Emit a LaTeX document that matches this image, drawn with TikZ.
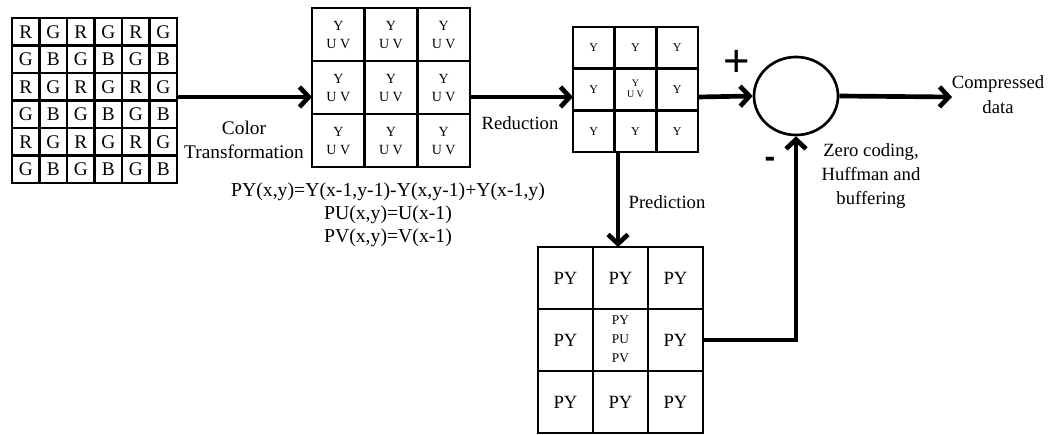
\documentclass[tikz,border=0pt]{standalone}
\usepackage{fontspec}
\setmainfont{Liberation Serif}
\newfontfamily\signfont{Liberation Sans}
\usetikzlibrary{arrows.meta,shapes.geometric}
\begin{document}
\begin{tikzpicture}[x=0.75pt,y=-0.75pt,
  frame/.style={draw, line width=2pt, inner sep=0pt, outer sep=0pt, anchor=north west},
  gridline/.style={line width=2pt},
  flow/.style={line width=3.5pt, -{Straight Barb[length=7pt,width=15pt]}},
  lbl/.style={font=\fontsize{14}{18}\selectfont, align=center, inner sep=0pt},
  bayer/.style={font=\fontsize{14.5}{16}\selectfont, inner sep=0pt},
  yuvtxt/.style={font=\fontsize{10.5}{13.5}\selectfont, align=center, inner sep=0pt},
  ytxt/.style={font=\fontsize{9}{11}\selectfont, align=center, inner sep=0pt},
  pytxt/.style={font=\fontsize{14}{16}\selectfont, align=center, inner sep=0pt},
]
\useasboundingbox (0,0) rectangle (1059,435);

% ---- Bayer mosaic (6 x 6) ----
\node[frame, minimum width=123.75pt, minimum height=123.75pt] (rgb) at (12,18) {};
\foreach \i in {1,...,5} {
  \draw[gridline] ({12+27.5*\i},18) -- ({12+27.5*\i},183);
  \draw[gridline] (12,{18+27.5*\i}) -- (177,{18+27.5*\i});
}
\foreach \row/\a/\b in {0/R/G,1/G/B,2/R/G,3/G/B,4/R/G,5/G/B} {
  \foreach \c in {0,2,4} {
    \pgfmathtruncatemacro\d{\c+1}
    \node[bayer] (p\row\c) at ({12+27.5*\c+13.75},{18+27.5*\row+14}) {\a};
    \node[bayer] (p\row\d) at ({12+27.5*\d+13.75},{18+27.5*\row+14}) {\b};
  }
}

% ---- YUV block (3 x 3) ----
\node[frame, minimum width=118.5pt, minimum height=119.25pt] (yuv) at (312,8) {};
\foreach \i in {1,2} {
  \draw[gridline] ({312+52.67*\i},8) -- ({312+52.67*\i},167);
  \draw[gridline] (312,{8+53*\i}) -- (470,{8+53*\i});
}
\foreach \r in {0,1,2} \foreach \c in {0,1,2} {
  \node[yuvtxt] (q\r\c) at ({338.3+52.67*\c},{35+53*\r}) {Y\\U V};
}

% ---- reduced block (3 x 3) ----
\node[frame, minimum width=93.75pt, minimum height=93.75pt] (red) at (573,27) {};
\foreach \i in {1,2} {
  \draw[gridline] ({573+41.67*\i},27) -- ({573+41.67*\i},152);
  \draw[gridline] (573,{27+41.67*\i}) -- (698,{27+41.67*\i});
}
\foreach \r/\c in {0/0,0/1,0/2,1/0,1/2,2/0,2/1,2/2} {
  \node[ytxt] (s\r\c) at ({593.8+41.67*\c},{48+41.67*\r}) {Y};
}
\node[font=\fontsize{7.5}{8.5}\selectfont, align=center, inner sep=0pt] (s11) at (635.5,88.5) {Y\\U V};

% ---- prediction block (3 x 3) ----
\node[frame, minimum width=123.75pt, minimum height=139.5pt] (pred) at (538,247) {};
\foreach \i in {1,2} {
  \draw[gridline] ({538+55*\i},247) -- ({538+55*\i},433);
  \draw[gridline] (538,{247+62*\i}) -- (703,{247+62*\i});
}
\foreach \r/\c in {0/0,0/1,0/2,1/0,1/2,2/0,2/1,2/2} {
  \node[pytxt] (t\r\c) at ({565.5+55*\c},{278+62*\r}) {PY};
}
\node[font=\fontsize{10}{14.25}\selectfont, align=center, inner sep=0pt] (t11) at (620.5,339) {PY\\PU\\PV};

% ---- summing junction ----
\node[draw, ellipse, line width=2pt, minimum width=63pt, minimum height=58.5pt, inner sep=0pt] (sum) at (796,96) {};
\node[font=\signfont\fontsize{34}{34}\selectfont, inner sep=0pt] (plus) at (737,63) {+};
\node[font=\signfont\bfseries\fontsize{24}{24}\selectfont, inner sep=0pt] (minus) at (770,162) {-};

% ---- connectors ----
\coordinate (lane) at (0,97);
\coordinate (dropx) at (618,0);
\coordinate (fb) at (0,340);
\coordinate (out) at (952,97);
\draw[flow] (rgb.east|-lane) -- (yuv.west|-lane);
\draw[flow] (yuv.east|-lane) -- (red.west|-lane);
\draw[flow] (red.east|-lane) -- (sum.west);
\draw[flow] (sum.east) -- (out);
\draw[flow] (red.south-|dropx) -- (pred.north-|dropx);
\draw[flow] (pred.east|-fb) -| (sum.south);

% ---- labels ----
\node[lbl, font=\fontsize{14.5}{18}\selectfont] (ct) at (244,140) {Color\\Transformation};
\node[lbl, font=\fontsize{14.8}{17.25}\selectfont] (eq) at (388,215) {PY(x,y)=Y(x-1,y-1)-Y(x,y-1)+Y(x-1,y)\\PU(x,y)=U(x-1)\\PV(x,y)=V(x-1)};
\node[lbl] (rd) at (520,123) {Reduction};
\node[lbl] (pr) at (667,202) {Prediction};
\node[lbl, font=\fontsize{14}{18}\selectfont] (zc) at (871,176) {Zero coding,\\Huffman and\\buffering};
\node[lbl, font=\fontsize{14}{18.75}\selectfont] (cd) at (998,95) {Compressed\\data};
\end{tikzpicture}
\end{document}
